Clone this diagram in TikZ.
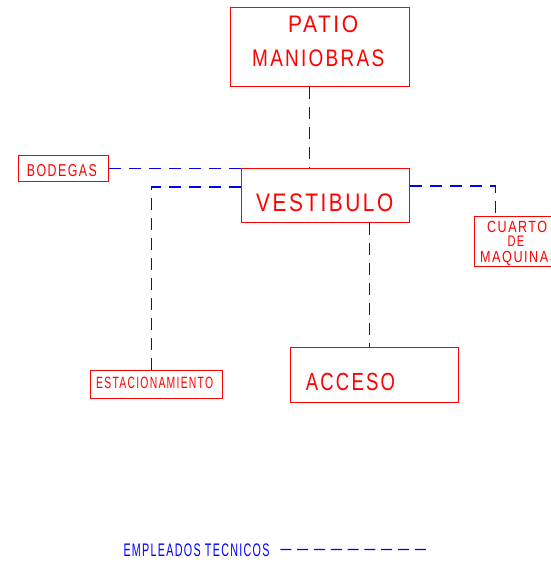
\documentclass[tikz,border=0pt]{standalone}
\usepackage{fontspec}
\usepackage{graphicx}
\newfontfamily\cadfont{Liberation Sans}[LetterSpace=12]
\newcommand{\cadtext}[3]{\resizebox{#1pt}{#2pt}{\cadfont #3}}
\definecolor{linkblue}{RGB}{0,0,255}
\tikzset{
  room/.style={draw=red, line width=1pt, inner sep=0pt},
  roomtext/.style={text=red, inner sep=0pt, anchor=base west},
  link/.style={draw=linkblue, line width=1.3pt, dash pattern=on 12pt off 8pt},
}
\begin{document}
\begin{tikzpicture}[x=1pt,y=-1pt]
    \path[use as bounding box] (0,0) rectangle (551,563);

    % Rooms
    \node[room, minimum width=179pt, minimum height=79pt] (patio) at (320,47) {};
    \node[room, minimum width=168pt, minimum height=54pt] (vest) at (325.5,195.5) {};
    \node[room, minimum width=90pt, minimum height=26pt] (bodegas) at (63.5,168.5) {};
    \node[room, minimum width=132pt, minimum height=28pt] (estac) at (156.5,384.5) {};
    \node[room, minimum width=168pt, minimum height=55pt] (acceso) at (374.5,375) {};
    \node[room, minimum width=86pt, minimum height=50pt] (cuarto) at (517.5,241.5) {};

    % Links
    \draw[link] ([xshift=-10.5pt]patio.south) -- ([xshift=-16pt]vest.north);
    \draw[link] (bodegas.east) -- (bodegas.east -| vest.west);
    \draw[link] ([yshift=-19pt]vest.north west) -| ([xshift=-5pt]estac.north);
    \draw[link] ([yshift=-18pt]vest.north east) -| ([xshift=-22pt]cuarto.north);
    \draw[link] ([xshift=44pt]vest.south) -- ([xshift=-5pt]acceso.north);

    % Labels
    \node[roomtext] (patiotxt) at (288,32.3) {\cadtext{70}{16.7}{PATIO}};
    \node[roomtext] (maniobrastxt) at (252,66.7) {\cadtext{132}{16.7}{MANIOBRAS}};
    \node[roomtext] (vesttxt) at (256,211) {\cadtext{137}{17.7}{VESTIBULO}};
    \node[roomtext] (bodegastxt) at (26.7,176) {\cadtext{70}{12}{BODEGAS}};
    \node[roomtext] (estactxt) at (96,388.7) {\cadtext{117}{11.4}{ESTACIONAMIENTO}};
    \node[roomtext] (accesotxt) at (305.7,390.7) {\cadtext{89}{17.3}{ACCESO}};
    \node[roomtext] (cuartotxt) at (487,232) {\cadtext{60}{11.3}{CUARTO}};
    \node[roomtext] (detxt) at (507.3,246.7) {\cadtext{16.7}{10.5}{DE}};
    \node[roomtext] (maquinastxt) at (480,262.2) {\cadtext{78}{11.2}{MAQUINAS}};

    % Legend
    \node[roomtext, text=linkblue] (legend) at (123.3,556.7)
        {\cadtext{146}{12.7}{EMPLEADOS TECNICOS}};
    \coordinate (legendend) at (426,549.5);
    \draw[link, dash pattern=on 11pt off 5.8pt]
        ([xshift=10.7pt,yshift=0.85pt]legend.east) -- (legendend);
\end{tikzpicture}
\end{document}
